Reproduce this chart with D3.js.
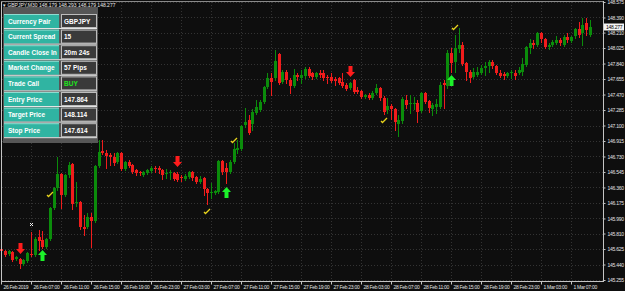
<!DOCTYPE html>
<html>
<head>
<meta charset="utf-8">
<script src="https://cdn.jsdelivr.net/npm/d3@7"></script>
<style>
body { margin: 0; background: #0e0e0e; }
svg { display: block; font-family: "Liberation Sans", Arial, sans-serif; }
</style>
</head>
<body>
<svg id="chart" width="625" height="291"></svg>
<script>
// GBPJPY M30 candles (bar 0 = first visible bar)
const openV = [
    145.625, 145.602, 145.566, 145.590, 145.506, 145.506, 145.446, 145.482, 145.566, 145.554,
    145.769, 145.733, 145.649, 145.745, 146.115, 146.354, 146.521, 146.270, 146.509, 146.641,
    146.175, 146.187, 145.888, 145.888, 146.008, 145.960, 146.617, 146.796, 146.772, 146.748,
    146.724, 146.664, 146.772, 146.581, 146.664, 146.629, 146.569, 146.545, 146.509, 146.533,
    146.557, 146.593, 146.593, 146.569, 146.521, 146.533, 146.533, 146.521, 146.485, 146.461,
    146.485, 146.545, 146.485, 146.426, 146.473, 146.342, 146.294, 146.294, 146.306, 146.676,
    146.593, 146.545, 146.664, 146.808, 146.820, 147.106, 147.166, 147.118, 147.250, 147.285,
    147.381, 147.560, 147.668, 147.668, 147.954, 147.620, 147.739, 147.644, 147.572, 147.703,
    147.668, 147.691, 147.775, 147.727, 147.679, 147.727, 147.727, 147.679, 147.679, 147.656,
    147.668, 147.620, 147.584, 147.548, 147.644, 147.524, 147.512, 147.441, 147.464, 147.429,
    147.488, 147.548, 147.429, 147.285, 147.333, 147.297, 147.118, 147.154, 147.405, 147.357,
    147.357, 147.369, 147.273, 147.488, 147.393, 147.297, 147.321, 147.321, 147.608, 147.572,
    147.966, 147.859, 148.014, 148.062, 147.847, 147.739, 147.679, 147.703, 147.727, 147.787,
    147.811, 147.859, 147.811, 147.727, 147.715, 147.691, 147.727, 147.727, 147.727, 147.739,
    147.823, 148.026, 148.086, 148.062, 148.205, 148.133, 148.038, 148.062, 148.086, 148.121,
    148.062, 148.157, 148.109, 148.169, 148.253, 148.205, 148.324, 148.181
];
const highV = [
    145.637, 145.614, 145.614, 145.602, 145.542, 145.518, 145.506, 145.590, 145.829, 145.769,
    145.852, 145.840, 145.757, 146.127, 146.366, 146.724, 146.533, 146.521, 146.664, 146.652,
    146.426, 146.199, 146.032, 146.055, 146.055, 146.629, 146.927, 146.927, 146.808, 146.772,
    146.772, 146.784, 146.784, 146.676, 146.688, 146.641, 146.581, 146.557, 146.557, 146.581,
    146.617, 146.617, 146.617, 146.581, 146.581, 146.569, 146.545, 146.545, 146.509, 146.521,
    146.557, 146.557, 146.497, 146.497, 146.485, 146.354, 146.414, 146.330, 146.688, 146.688,
    146.652, 146.688, 146.891, 146.927, 147.106, 147.309, 147.226, 147.297, 147.405, 147.405,
    147.572, 147.727, 147.727, 148.002, 147.966, 147.763, 147.763, 147.668, 147.775, 147.727,
    147.763, 147.799, 147.799, 147.739, 147.739, 147.763, 147.763, 147.703, 147.727, 147.679,
    147.679, 147.727, 147.608, 147.620, 147.656, 147.560, 147.524, 147.476, 147.488, 147.512,
    147.596, 147.560, 147.453, 147.429, 147.357, 147.309, 147.226, 147.441, 147.464, 147.464,
    147.441, 147.405, 147.500, 147.500, 147.405, 147.369, 147.417, 147.620, 147.644, 148.002,
    148.026, 148.181, 148.265, 148.097, 147.859, 147.763, 147.787, 147.799, 147.823, 147.859,
    147.882, 147.882, 147.823, 147.763, 147.739, 147.739, 147.763, 147.763, 147.799, 147.906,
    148.050, 148.133, 148.121, 148.217, 148.217, 148.145, 148.086, 148.121, 148.169, 148.145,
    148.181, 148.205, 148.169, 148.265, 148.336, 148.384, 148.384, 148.360
];
const lowV = [
    145.590, 145.542, 145.554, 145.482, 145.494, 145.399, 145.434, 145.470, 145.542, 145.542,
    145.614, 145.637, 145.637, 145.733, 146.103, 146.330, 146.115, 146.258, 146.485, 146.103,
    146.139, 145.864, 145.793, 145.876, 145.649, 145.948, 146.605, 146.760, 146.593, 146.629,
    146.629, 146.652, 146.569, 146.569, 146.605, 146.533, 146.509, 146.509, 146.497, 146.521,
    146.545, 146.545, 146.533, 146.461, 146.473, 146.461, 146.449, 146.438, 146.438, 146.449,
    146.473, 146.449, 146.414, 146.414, 146.270, 146.163, 146.235, 146.282, 146.294, 146.521,
    146.414, 146.533, 146.652, 146.772, 146.808, 147.082, 146.999, 147.047, 147.238, 147.273,
    147.369, 147.548, 147.464, 147.644, 147.596, 147.608, 147.608, 147.488, 147.560, 147.644,
    147.608, 147.668, 147.679, 147.656, 147.668, 147.679, 147.644, 147.608, 147.620, 147.584,
    147.596, 147.560, 147.524, 147.536, 147.488, 147.488, 147.429, 147.429, 147.417, 147.417,
    147.476, 147.405, 147.238, 147.250, 147.178, 147.047, 146.975, 147.130, 147.309, 147.250,
    147.297, 147.142, 147.262, 147.369, 147.262, 147.226, 147.250, 147.309, 147.309, 147.548,
    147.739, 147.739, 147.978, 147.823, 147.644, 147.620, 147.668, 147.691, 147.715, 147.703,
    147.739, 147.787, 147.715, 147.679, 147.656, 147.679, 147.668, 147.656, 147.715, 147.703,
    147.811, 147.966, 148.026, 148.050, 148.097, 148.026, 148.014, 148.050, 148.074, 148.062,
    148.050, 148.097, 148.097, 148.145, 148.157, 148.062, 148.181, 148.169
];
const closeV = [
    145.602, 145.554, 145.602, 145.494, 145.530, 145.446, 145.494, 145.578, 145.554, 145.745,
    145.721, 145.649, 145.745, 146.115, 146.354, 146.521, 146.270, 146.509, 146.629, 146.163,
    146.187, 145.888, 145.864, 146.008, 145.960, 146.617, 146.784, 146.772, 146.736, 146.724,
    146.652, 146.772, 146.581, 146.664, 146.617, 146.545, 146.533, 146.533, 146.545, 146.569,
    146.593, 146.581, 146.569, 146.509, 146.533, 146.545, 146.461, 146.449, 146.473, 146.497,
    146.545, 146.473, 146.426, 146.461, 146.342, 146.294, 146.306, 146.318, 146.676, 146.545,
    146.545, 146.664, 146.820, 146.832, 147.094, 147.142, 147.011, 147.262, 147.321, 147.381,
    147.560, 147.668, 147.620, 147.871, 147.608, 147.739, 147.644, 147.572, 147.703, 147.679,
    147.703, 147.775, 147.691, 147.679, 147.727, 147.703, 147.668, 147.668, 147.632, 147.632,
    147.608, 147.572, 147.536, 147.608, 147.500, 147.500, 147.441, 147.464, 147.429, 147.488,
    147.548, 147.429, 147.262, 147.333, 147.297, 147.142, 147.166, 147.417, 147.345, 147.369,
    147.369, 147.262, 147.488, 147.381, 147.309, 147.345, 147.357, 147.584, 147.584, 147.966,
    147.847, 148.026, 148.062, 147.835, 147.739, 147.668, 147.739, 147.739, 147.787, 147.811,
    147.859, 147.811, 147.727, 147.691, 147.691, 147.727, 147.739, 147.691, 147.763, 147.835,
    148.038, 148.086, 148.062, 148.205, 148.133, 148.038, 148.062, 148.097, 148.121, 148.086,
    148.157, 148.121, 148.157, 148.253, 148.181, 148.300, 148.241, 148.277
];

// one label every 8 bars (4 hours)
const xLabels = ["26 Feb 2019", "26 Feb 07:00", "26 Feb 11:00", "26 Feb 15:00", "26 Feb 19:00",
    "26 Feb 23:00", "27 Feb 03:00", "27 Feb 07:00", "27 Feb 11:00", "27 Feb 15:00",
    "27 Feb 19:00", "27 Feb 23:00", "28 Feb 03:00", "28 Feb 07:00", "28 Feb 11:00",
    "28 Feb 15:00", "28 Feb 19:00", "28 Feb 23:00", "1 Mar 03:00", "1 Mar 07:00"];
const yTickLabels = ["148.575", "148.390", "148.210", "148.025", "147.840", "147.655", "147.470",
    "147.285", "147.100", "146.915", "146.730", "146.545", "146.360", "146.175", "145.990",
    "145.810", "145.625", "145.440", "145.255"];

// indicator signals: bar index + price level
const sellBars = [5, 47, 93];
const sellLevels = [145.697, 146.736, 147.811];
const buyBars = [11, 60, 120];
const buyLevels = [145.614, 146.366, 147.703];
const checkBars = [13, 55, 62, 102, 121];
const checkLevels = [146.282, 146.079, 146.927, 147.166, 148.277];
const crossBars = [8];
const crossLevels = [145.924];

// info panel
const panelLabels = ["Currency Pair", "Current Spread", "Candle Close In", "Market Change",
    "Trade Call", "Entry Price", "Target Price", "Stop Price"];
const panelValues = ["GBPJPY", "15", "20m 24s", "57 Pips", "BUY", "147.864", "148.114", "147.614"];

const headerText = "GBPJPY,M30  148.179 148.293 148.179 148.277";
const lastPrice = "148.277";

const W = 625, H = 291;
const plotRight = 603, plotBottom = 281;
const bull = '#0b8c0b', bear = '#f01c1c';

const svg = d3.select('#chart');

svg.append('rect').attr('width', W).attr('height', H).attr('fill', '#0e0e0e');

const xScale = d3.scaleLinear().domain([0, 160]).range([1, 601]);
const yScale = d3.scaleLinear().domain([145.255, 148.575]).range([280, 2]);

const yTickVals = yTickLabels.map(Number);
const xTickIdx = xLabels.map((d, i) => i * 8);

// dotted grid
const grid = svg.append('g').attr('class', 'grid');
grid.selectAll('line.h')
    .data(yTickVals)
    .enter()
    .append('line')
    .attr('x1', 2).attr('x2', plotRight)
    .attr('y1', d => Math.round(yScale(d)) + 0.5)
    .attr('y2', d => Math.round(yScale(d)) + 0.5)
    .attr('stroke', '#333')
    .attr('stroke-dasharray', '1,2');
grid.selectAll('line.v')
    .data(xTickIdx)
    .enter()
    .append('line')
    .attr('x1', d => Math.round(xScale(d)) + 0.5)
    .attr('x2', d => Math.round(xScale(d)) + 0.5)
    .attr('y1', 2).attr('y2', plotBottom)
    .attr('stroke', '#333')
    .attr('stroke-dasharray', '1,2');

// candles
const bars = d3.range(openV.length).map(i => ({
    i: i, o: openV[i], h: highV[i], l: lowV[i], c: closeV[i]
}));

const candles = svg.append('g').attr('class', 'candles');
candles.selectAll('line')
    .data(bars)
    .enter()
    .append('line')
    .attr('x1', d => Math.round(xScale(d.i)) + 0.5)
    .attr('x2', d => Math.round(xScale(d.i)) + 0.5)
    .attr('y1', d => Math.round(yScale(d.h)))
    .attr('y2', d => Math.round(yScale(d.l)) + 1)
    .attr('stroke', d => d.c >= d.o ? bull : bear);
candles.selectAll('rect')
    .data(bars)
    .enter()
    .append('rect')
    .attr('x', d => Math.round(xScale(d.i)) - 1)
    .attr('width', 3)
    .attr('y', d => Math.round(yScale(Math.max(d.o, d.c))))
    .attr('height', d => Math.max(1, Math.round(yScale(Math.min(d.o, d.c))) - Math.round(yScale(Math.max(d.o, d.c)))))
    .attr('fill', d => d.c >= d.o ? bull : bear);

// signal arrows
const sellArrow = (cx, t) => `M${cx - 2},${t} h4 v6 h2.5 l-4.5,5 l-4.5,-5 h2.5 z`;
const buyArrow = (cx, t) => `M${cx},${t} l4.5,5 h-2.5 v6 h-4 v-6 h-2.5 z`;

svg.append('g').selectAll('path')
    .data(sellBars)
    .enter()
    .append('path')
    .attr('d', (d, k) => sellArrow(Math.round(xScale(d)) + 0.5, Math.round(yScale(sellLevels[k]))))
    .attr('fill', '#ff1c1c');
svg.append('g').selectAll('path')
    .data(buyBars)
    .enter()
    .append('path')
    .attr('d', (d, k) => buyArrow(Math.round(xScale(d)) + 0.5, Math.round(yScale(buyLevels[k]))))
    .attr('fill', '#1cf22a');

// little yellow ticks
svg.append('g').selectAll('path')
    .data(checkBars)
    .enter()
    .append('path')
    .attr('d', (d, k) => {
        const x = Math.round(xScale(d)), y = Math.round(yScale(checkLevels[k]));
        return `M${x - 3},${y + 1} L${x - 1.5},${y + 2.5} L${x + 3},${y - 2}`;
    })
    .attr('fill', 'none')
    .attr('stroke', '#e8d41c')
    .attr('stroke-width', 1.3);

// white cross marker
svg.append('g').selectAll('path')
    .data(crossBars)
    .enter()
    .append('path')
    .attr('d', (d, k) => {
        const x = Math.round(xScale(d)) + 0.5, y = Math.round(yScale(crossLevels[k])) + 0.5;
        return `M${x - 1.5},${y - 1.5} L${x + 1.5},${y + 1.5} M${x + 1.5},${y - 1.5} L${x - 1.5},${y + 1.5}`;
    })
    .attr('stroke', '#eee')
    .attr('stroke-width', 1);

// frame
const frame = svg.append('g').attr('stroke', '#c4c4c4');
frame.append('line').attr('x1', 1.5).attr('x2', 1.5).attr('y1', 1).attr('y2', plotBottom + 1);
frame.append('line').attr('x1', 1).attr('x2', plotRight + 1).attr('y1', 1.5).attr('y2', 1.5).attr('stroke', '#8a8a8a');
frame.append('line').attr('x1', plotRight + 0.5).attr('x2', plotRight + 0.5).attr('y1', 1).attr('y2', plotBottom + 1);
frame.append('line').attr('x1', 1).attr('x2', plotRight + 1).attr('y1', plotBottom + 0.5).attr('y2', plotBottom + 0.5);

// price axis
const yAxis = svg.append('g')
    .attr('transform', `translate(${plotRight + 0.5},0)`)
    .call(d3.axisRight(yScale)
        .tickValues(yTickVals)
        .tickFormat((d, i) => yTickLabels[i])
        .tickSize(2)
        .tickPadding(2));
yAxis.select('.domain').remove();
yAxis.selectAll('line').attr('stroke', '#c4c4c4');
yAxis.selectAll('text')
    .attr('fill', '#e2e2e2')
    .attr('font-size', 5)
    .attr('letter-spacing', -0.25)
    .attr('font-family', '"Liberation Sans", Arial, sans-serif');

// time axis
const xAxis = svg.append('g')
    .attr('transform', `translate(0,${plotBottom + 0.5})`)
    .call(d3.axisBottom(xScale)
        .tickValues(xTickIdx)
        .tickFormat((d, i) => xLabels[i])
        .tickSize(3)
        .tickPadding(1));
xAxis.select('.domain').remove();
xAxis.selectAll('line').attr('stroke', '#c4c4c4');
xAxis.selectAll('text')
    .attr('text-anchor', 'start')
    .attr('dx', 2)
    .attr('fill', '#e2e2e2')
    .attr('font-size', 5)
    .attr('letter-spacing', -0.3)
    .attr('font-family', '"Liberation Sans", Arial, sans-serif');

// current price tag
const lastY = Math.round(yScale(+lastPrice));
svg.append('rect')
    .attr('x', plotRight + 1).attr('y', lastY - 3.5)
    .attr('width', 20).attr('height', 7)
    .attr('fill', '#f4f4f4');
svg.append('text')
    .attr('x', plotRight + 3).attr('y', lastY + 2)
    .attr('font-size', 5)
    .attr('letter-spacing', -0.25)
    .attr('fill', '#000')
    .text(lastPrice);

// info panel
const panel = svg.append('g').attr('transform', 'translate(3,7)');
panel.append('rect').attr('width', 95).attr('height', 136).attr('fill', '#565656');

const rows = panel.selectAll('g.row')
    .data(panelLabels)
    .enter()
    .append('g')
    .attr('transform', (d, r) => `translate(1,${7 + r * 15.6})`);
rows.append('rect')
    .attr('width', 55).attr('height', 14)
    .attr('fill', '#30b4a2');
rows.append('rect')
    .attr('x', 0).attr('width', 55).attr('height', 1)
    .attr('fill', '#8fdcd0');
rows.append('rect')
    .attr('x', 57.5).attr('y', 0.5)
    .attr('width', 35).attr('height', 13)
    .attr('fill', '#3a3a3a')
    .attr('stroke', '#bdbdbd');
rows.append('line')
    .attr('x1', 0).attr('x2', 93)
    .attr('y1', 14.5).attr('y2', 14.5)
    .attr('stroke', '#e4e4e4');
rows.append('text')
    .attr('x', 4).attr('y', 9.5)
    .attr('font-size', 6.5)
    .attr('font-weight', 'bold')
    .attr('fill', '#fff')
    .text(d => d);
rows.append('text')
    .attr('x', 60).attr('y', 9.5)
    .attr('font-size', 6.5)
    .attr('font-weight', 'bold')
    .attr('fill', (d, r) => panelValues[r] === 'BUY' ? '#1ee61e' : '#fff')
    .text((d, r) => panelValues[r]);

// chart header
svg.append('text')
    .attr('x', 3).attr('y', 6.5)
    .attr('font-size', 5)
    .attr('fill', '#e8e8e8')
    .text('\u25BE ' + headerText);
</script>
</body>
</html>
